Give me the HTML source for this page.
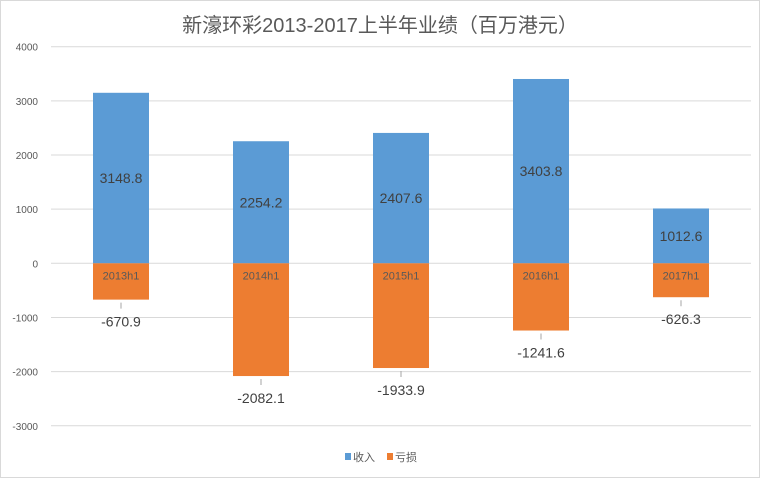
<!DOCTYPE html>
<html><head><meta charset="utf-8"><style>
body{margin:0;background:#fff}
svg{display:block;font-family:"Liberation Sans","Noto Sans CJK SC",sans-serif}
</style></head><body>
<svg id="c" width="760" height="478">
<rect x="0.5" y="0.5" width="759" height="477" fill="#fff" stroke="#d9d9d9"/>
<text x="380" y="32" text-anchor="middle" font-size="20" fill="#595959">新濠环彩2013-2017上半年业绩（百万港元）</text>
<g id="grid"></g><g id="bars"></g>
<g>
<rect x="345" y="453" width="6" height="7" fill="#5b9bd5"/>
<text x="353" y="461" font-size="11" fill="#595959">收入</text>
<rect x="387" y="453" width="6" height="7" fill="#ed7d31"/>
<text x="395" y="461" font-size="11" fill="#595959">亏损</text>
</g>
</svg>
<script>
const categories=["2013h1","2014h1","2015h1","2016h1","2017h1"];
const revenue=[3148.8,2254.2,2407.6,3403.8,1012.6];
const loss=[-670.9,-2082.1,-1933.9,-1241.6,-626.3];
const ticks=[4000,3000,2000,1000,0,-1000,-2000,-3000];
const NS="http://www.w3.org/2000/svg";
const y=v=>263.3-v*0.05415;
const left=51,right=751,band=(right-left)/categories.length,bw=56;
const x=i=>left+band*(i+0.5);
function mk(t,a,p){const e=document.createElementNS(NS,t);for(const k in a)e.setAttribute(k,a[k]);p.appendChild(e);return e;}
const g=document.getElementById('grid'),b=document.getElementById('bars');
ticks.forEach(t=>{
 const l=mk('line',{x1:left,x2:right,y1:y(t),y2:y(t),stroke:'#d9d9d9','stroke-width':1},g);
 
 
 const tx=mk('text',{x:38,y:y(t)+4,'text-anchor':'end','font-size':10,fill:'#595959'},g);
 tx.textContent=t;
 
 
});
categories.forEach((c,i)=>{
 const cx=x(i);
 const r=mk('rect',{x:cx-bw/2,y:y(revenue[i]),width:bw,height:y(0)-y(revenue[i]),fill:'#5b9bd5'},b);
 
 
 const o=mk('rect',{x:cx-bw/2,y:y(0),width:bw,height:y(loss[i])-y(0),fill:'#ed7d31'},b);
 
 
 const t1=mk('text',{x:cx,y:(y(revenue[i])+y(0))/2+5,'text-anchor':'middle','font-size':14,fill:'#404040'},b);
 t1.textContent=revenue[i].toFixed(1);
 
 
 const cl=mk('text',{x:cx,y:y(0)+16,'text-anchor':'middle','font-size':11,fill:'#595959'},b);
 cl.textContent=c;
 
 
 const ln=mk('line',{x1:cx,x2:cx,y1:y(loss[i])+3,y2:y(loss[i])+9,stroke:'#a6a6a6'},b);
 
 
 const t2=mk('text',{x:cx,y:y(loss[i])+27,'text-anchor':'middle','font-size':14,fill:'#404040'},b);
 t2.textContent=loss[i].toFixed(1);
 
 
});
</script>
</body></html>
